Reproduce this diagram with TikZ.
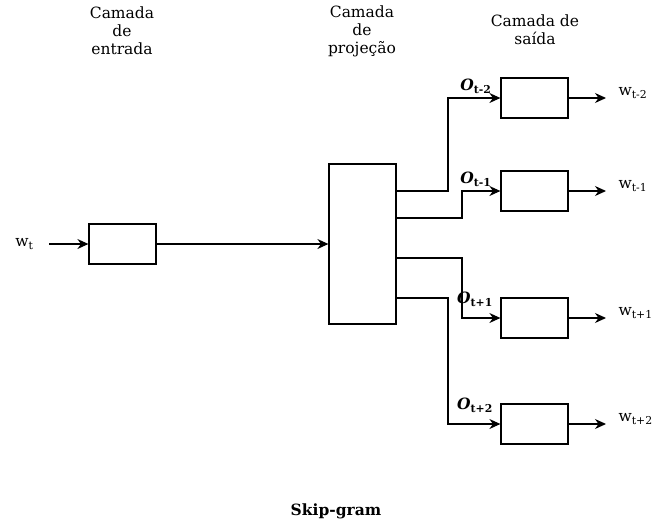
\documentclass[tikz,border=0pt]{standalone}
\usepackage{fontspec}
\setmainfont{DejaVu Serif}
\usetikzlibrary{arrows.meta}

\newcommand{\outw}[1]{w\textsubscript{#1}}
\newcommand{\outo}[1]{\textbf{\textit{O}\textsubscript{#1}}}

\begin{document}
\begin{tikzpicture}[x=1pt,y=-1pt,>={Stealth[length=11pt,width=10pt]},line width=1.2pt,
  every node/.style={align=center,font=\fontsize{15.5}{18}\selectfont},
  box/.style={draw,minimum width=67pt,minimum height=40pt,inner sep=0pt},
  outlabel/.style={anchor=west,inner xsep=12pt,inner ysep=0pt}]
\useasboundingbox (0,0) rectangle (665,520);
\node at (122,31) {Camada\\de\\entrada};
\node at (362,31) {Camada\\de\\projeção};
\node at (535,30) {Camada de\\saída};
\node (in) [box] at (122.5,244) {};
\node (proj) [box,minimum height=160pt] at (362.5,244) {};
\node (wt) [anchor=east,inner xsep=15pt] at (49,244) {\outw{t}};
\draw[->] (wt) -- (in);
\draw[->] (in) -- (proj);
\node (o1) [box] at (534.5,98) {};
\node (o2) [box] at (534.5,191) {};
\node (o3) [box] at (534.5,318) {};
\node (o4) [box] at (534.5,424) {};
\node (w1) [outlabel] at (606,93) {\outw{t-2}};
\node (w2) [outlabel] at (606,186) {\outw{t-1}};
\node (w3) [outlabel] at (606,313) {\outw{t+1}};
\node (w4) [outlabel] at (606,419) {\outw{t+2}};
\foreach \i in {1,...,4}
  \draw[->] (o\i) -- (o\i -| w\i.west);
\coordinate (p1) at (396,191);
\coordinate (p2) at (396,218);
\coordinate (p3) at (396,258);
\coordinate (p4) at (396,298);
\draw[->] (p1) -- ++(52,0) |- (o1);
\draw[->] (p2) -- ++(66,0) |- (o2);
\draw[->] (p3) -- ++(66,0) |- (o3);
\draw[->] (p4) -- ++(52,0) |- (o4);
\node at (476,86) {\outo{t-2}};
\node at (476,179) {\outo{t-1}};
\node at (475,299) {\outo{t+1}};
\node at (475,405) {\outo{t+2}};
\node at (336,511) {\textbf{Skip-gram}};
\end{tikzpicture}
\end{document}
